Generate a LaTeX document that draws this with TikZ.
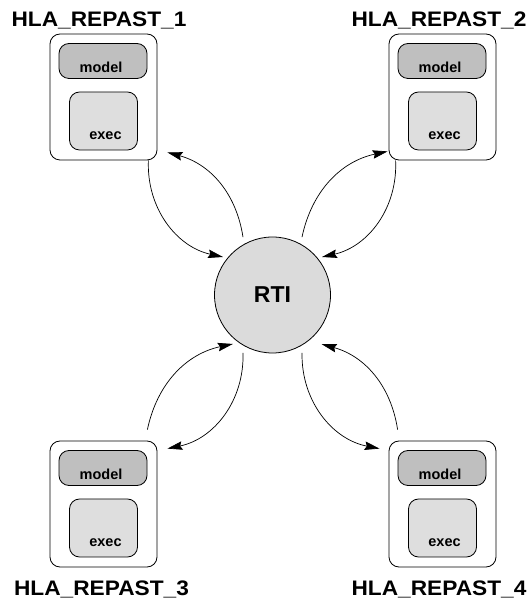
\documentclass[tikz,border=0pt]{standalone}
\usepackage{fontspec}
\setmainfont{Liberation Sans}
\usetikzlibrary{arrows.meta,calc}
\definecolor{modelgray}{gray}{0.75}
\definecolor{execgray}{gray}{0.87}
\definecolor{rtigray}{gray}{0.86}
\newcommand\federate[3]{%
  \node[outerbox] (#1) at (#2,#3) {};
  \node[modelbox] (#1m) at (#2-0.5,#3+36) {};
  \node[execbox] (#1e) at (#2,#3-24) {};
  \node[boxtext] (#1mt) at (#2-2.5,#3+24) {model};
  \node[boxtext] (#1et) at (#2+2,#3-43) {exec};
}
\begin{document}
\begin{tikzpicture}[x=1pt,y=1pt,
  outerbox/.style={draw, line width=0.8pt, rounded corners=10pt, minimum width=107pt, minimum height=126pt, inner sep=0pt},
  modelbox/.style={draw, line width=0.8pt, fill=modelgray, rounded corners=10pt, minimum width=88pt, minimum height=35pt, inner sep=0pt},
  execbox/.style={draw, line width=0.8pt, fill=execgray, rounded corners=10pt, minimum width=68pt, minimum height=58pt, inner sep=0pt},
  boxtext/.style={anchor=base, inner sep=0pt, font=\bfseries\fontsize{14.5}{16}\selectfont},
  fedlabel/.style={anchor=base, inner sep=0pt, font=\bfseries\fontsize{21}{24}\selectfont},
  rtinode/.style={draw, circle, line width=0.8pt, fill=rtigray, minimum size=116pt, inner sep=0pt, font=\bfseries\fontsize{23}{26}\selectfont},
  link/.style={line width=0.7pt, -{Stealth[length=15pt,width=8.5pt,inset=2pt]}}
]
\useasboundingbox (0,0) rectangle (532,600);

\federate{f1}{103.5}{503}
\federate{f2}{442.5}{503}
\federate{f3}{103.5}{96}
\federate{f4}{442.5}{96}

\node[rtinode] (rti) at (272.5,305) {RTI};

\node[fedlabel] (l1) at (99,573) {\scalebox{1.08}[1]{HLA\_REPAST\_1}};
\node[fedlabel] (l2) at (439,573) {\scalebox{1.08}[1]{HLA\_REPAST\_2}};
\node[fedlabel] (l3) at (101.5,5) {\scalebox{1.08}[1]{HLA\_REPAST\_3}};
\node[fedlabel] (l4) at (439,5) {\scalebox{1.08}[1]{HLA\_REPAST\_4}};

% top-left
\coordinate (aS) at ($(f1.south east)+(-9,0)$);
\coordinate (aT) at ($(rti.center)+(142.5:62.4)$);
\coordinate (bS) at ($(rti.center)+(117:65)$);
\coordinate (bT) at ($(f1.south east)+(10,8)$);
% top-right
\coordinate (cS) at ($(rti.center)+(63:65)$);
\coordinate (cT) at ($(f2.south west)+(-1,9)$);
\coordinate (dS) at ($(f2.south west)+(7,0)$);
\coordinate (dT) at ($(rti.center)+(37.5:62.4)$);
% bottom-left
\coordinate (eS) at ($(f3.north east)+(-10,11)$);
\coordinate (eT) at ($(rti.center)+(231:63)$);
\coordinate (fS) at ($(rti.center)+(243:65)$);
\coordinate (fT) at ($(f3.north east)+(10,-8)$);
% bottom-right
\coordinate (gS) at ($(rti.center)+(297:65)$);
\coordinate (gT) at ($(f4.north west)+(-9,-8)$);
\coordinate (hS) at ($(f4.north west)+(9,11)$);
\coordinate (hT) at ($(rti.center)+(315:69.6)$);

\draw[link] (aS) to[bend right=40] (aT);
\draw[link] (bS) to[bend right=33] (bT);
\draw[link] (cS) to[bend left=33] (cT);
\draw[link] (dS) to[bend left=40] (dT);
\draw[link] (eS) to[bend left=33] (eT);
\draw[link] (fS) to[bend left=40] (fT);
\draw[link] (gS) to[bend right=40] (gT);
\draw[link] (hS) to[bend right=33] (hT);
\end{tikzpicture}
\end{document}
